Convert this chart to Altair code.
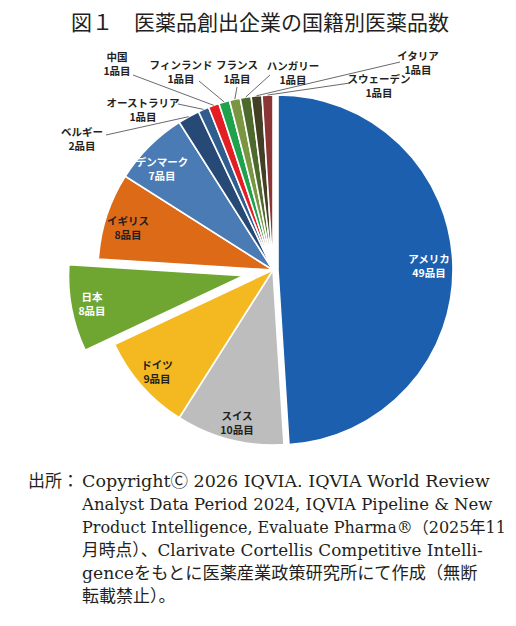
import math
import numpy as np
import pandas as pd
import altair as alt

# ---------------- data ----------------
countries = ["アメリカ", "スイス", "ドイツ", "日本", "イギリス", "デンマーク", "ベルギー",
             "オーストラリア", "中国", "フィンランド", "フランス", "ハンガリー", "イタリア", "スウェーデン"]
counts = [49, 10, 9, 8, 8, 7, 2, 1, 1, 1, 1, 1, 1, 1]
unit = "品目"

title_text = "図１　医薬品創出企業の国籍別医薬品数"
source_head = "出所："
source_lines = [
    "Copyright\u24b8 2026 IQVIA. IQVIA World Review",
    "Analyst Data Period 2024, IQVIA Pipeline & New",
    "Product Intelligence, Evaluate Pharma®（2025年11",
    "月時点）、Clarivate Cortellis Competitive Intelli-",
    "genceをもとに医薬産業政策研究所にて作成（無断",
    "転載禁止）。",
]

# ---------------- style / layout ----------------
colors = ["#1b5fae", "#bdbdbd", "#f4b820", "#6ea631", "#dc6a17", "#4a7bb4", "#264a75",
          "#2e5d8e", "#e31e24", "#20a24c", "#7a9640", "#4d6a2c", "#433f24", "#8b3536"]
label_color = {"アメリカ": "white", "日本": "white", "デンマーク": "white"}
DARK = "#231f20"
O = 8                       # page margin
CX, CY, R = 273 - O, 270 - O, 175
explode = {"アメリカ": 5, "日本": 30}
# label centers (page coords)
label_pos = {
    "アメリカ": (429, 267), "スイス": (237, 424), "ドイツ": (157, 373), "日本": (92, 305),
    "イギリス": (128, 229), "デンマーク": (162, 170), "ベルギー": (82, 140),
    "オーストラリア": (143, 111), "中国": (117, 65), "フィンランド": (181, 73),
    "フランス": (237, 73), "ハンガリー": (293, 74), "イタリア": (418, 64), "スウェーデン": (379, 87),
}
LINE_GAP = 14
# leader line start points (page coords)
leader_start = {
    "ベルギー": (106, 135), "オーストラリア": (178, 104), "中国": (133, 75),
    "フィンランド": (199, 81), "フランス": (237, 87), "ハンガリー": (270, 75),
    "スウェーデン": (350, 83), "イタリア": (400, 62),
}
FONT = "Noto Sans CJK JP"
SERIF = "DejaVu Serif, Noto Sans CJK JP"
source_sizes = [17.5, 16.5, 16, 16.8, 17.2, 17]   # emulate justified lines

# ---------------- derived geometry ----------------
total = sum(counts)
end = np.cumsum(counts)
start = end - np.array(counts)
mid_ang = (start + end) / 2 / total * 2 * math.pi
ex = np.array([explode.get(c, 0) for c in countries])
cx = CX + ex * np.sin(mid_ang)
cy = CY - ex * np.cos(mid_ang)

df = pd.DataFrame({"country": countries, "count": counts, "start": start, "end": end,
                   "cx": cx, "cy": cy})

lab_rows = []
for c, n in zip(countries, counts):
    px, py = label_pos[c]
    tc = label_color.get(c, DARK)
    lab_rows.append({"text": c, "x": px - O, "y": py - O - LINE_GAP / 2, "tc": tc})
    lab_rows.append({"text": f"{n}{unit}", "x": px - O, "y": py - O + LINE_GAP / 2, "tc": tc})
lab = pd.DataFrame(lab_rows)

lead_rows = []
for i, c in enumerate(countries):
    if c in leader_start:
        sx, sy = leader_start[c]
        lead_rows.append({
            "x": sx - O, "y": sy - O,
            "x2": cx[i] + R * math.sin(mid_ang[i]),
            "y2": cy[i] - R * math.cos(mid_ang[i]),
        })
lead = pd.DataFrame(lead_rows)

# ---------------- marks ----------------
arcs = alt.Chart(df).mark_arc(outerRadius=R, stroke="white", strokeWidth=1.6).encode(
    x=alt.X("cx:Q", scale=None, axis=None),
    y=alt.Y("cy:Q", scale=None, axis=None),
    theta=alt.Theta("start:Q", stack=None,
                    scale=alt.Scale(domain=[0, total], range=[0, 2 * math.pi])),
    theta2="end:Q",
    color=alt.Color("country:N", scale=alt.Scale(domain=countries, range=colors), legend=None),
)

leaders = alt.Chart(lead).mark_rule(color="#595959", strokeWidth=0.9).encode(
    x=alt.X("x:Q", scale=None), y=alt.Y("y:Q", scale=None), x2="x2:Q", y2="y2:Q"
)

labels = alt.Chart(lab).mark_text(
    font=FONT, fontSize=10.5, fontWeight="bold", align="center", baseline="middle"
).encode(
    x=alt.X("x:Q", scale=None), y=alt.Y("y:Q", scale=None),
    text="text:N", color=alt.Color("tc:N", scale=None),
)

title = alt.Chart(pd.DataFrame({"t": [title_text]})).mark_text(
    font=FONT, fontSize=21, color=DARK, align="center", baseline="alphabetic"
).encode(x=alt.value(260 - O), y=alt.value(30 - O), text="t:N")

src_df = pd.DataFrame({"t": source_lines,
                       "y": [482 - O + 23 * i for i in range(len(source_lines))],
                       "s": source_sizes})
source = alt.Chart(src_df).mark_text(
    font=SERIF, color=DARK, align="left", baseline="middle"
).encode(x=alt.value(82 - O), y=alt.Y("y:Q", scale=None), text="t:N",
         size=alt.Size("s:Q", scale=None, legend=None))

src_head = alt.Chart(pd.DataFrame({"t": [source_head]})).mark_text(
    font=SERIF, fontSize=17, color=DARK, align="left", baseline="middle"
).encode(x=alt.value(28 - O), y=alt.value(482 - O), text="t:N")

chart = alt.layer(arcs, leaders, labels, title, source, src_head).properties(
    width=500, height=610, padding=0, autosize=alt.AutoSizeParams(type="none"),
    background="white",
).configure_view(stroke=None)

chart.save("out.html", embed_options={"renderer": "svg", "actions": False})
